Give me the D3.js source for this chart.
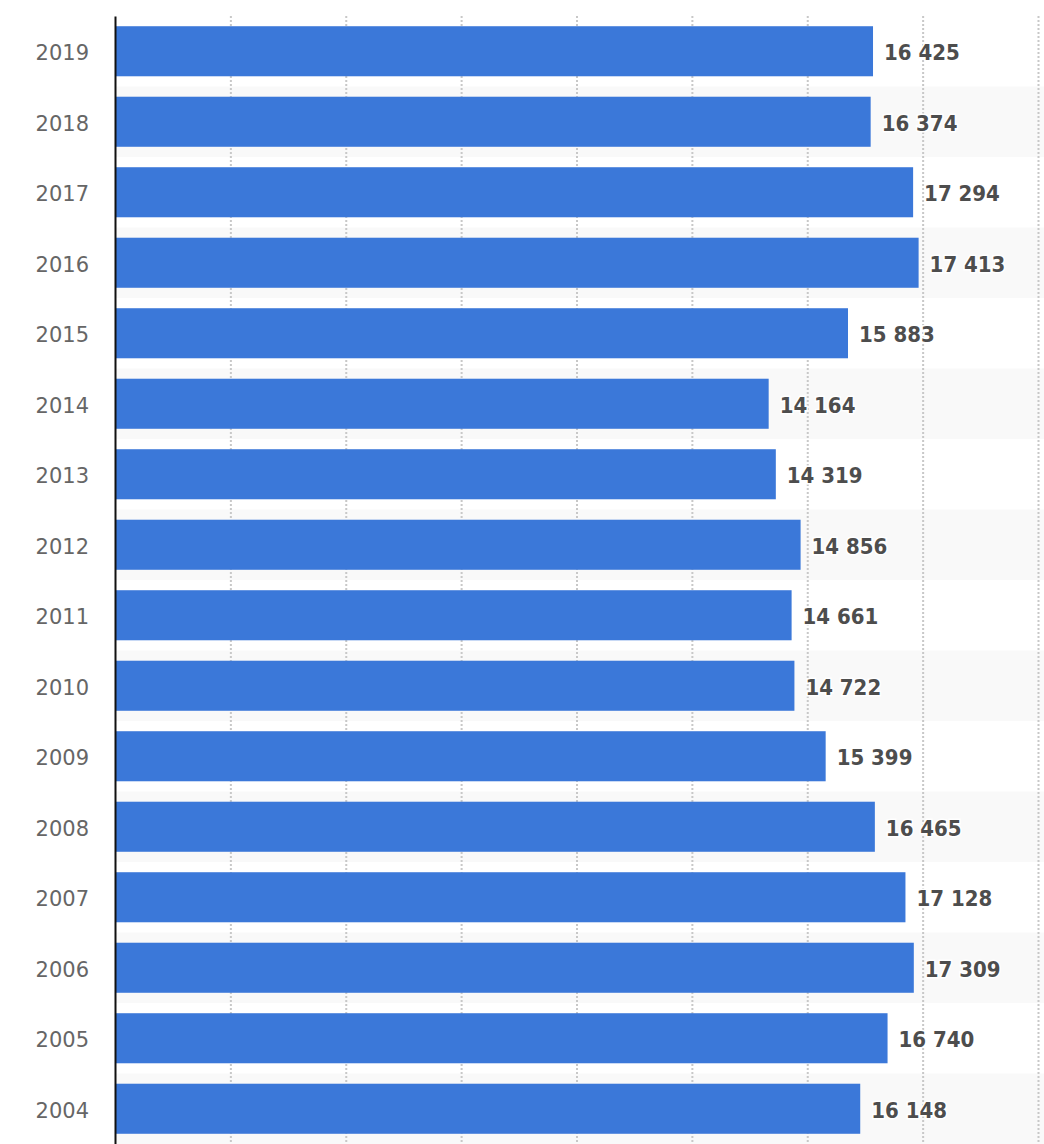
<!DOCTYPE html>
<html>
<head>
<meta charset="utf-8">
<script src="https://cdn.jsdelivr.net/npm/d3@7"></script>
<style>
  body { margin: 0; background: #fff; }
  svg { display: block; }
</style>
</head>
<body>
<svg id="chart"></svg>
<script>
var years = ["2019","2018","2017","2016","2015","2014","2013","2012","2011","2010","2009","2008","2007","2006","2005","2004"];
var values = [16425,16374,17294,17413,15883,14164,14319,14856,14661,14722,15399,16465,17128,17309,16740,16148];
var gridTicks = [2500,5000,7500,10000,12500,15000,17500,20000];

var data = years.map(function(y, i){
    return { year: y, value: values[i] };
});

var svgWidth = 1044;
var svgHeight = 1144;
var plotLeft = 115, plotRight = 1038, plotTop = 16, plotBottom = 1144;

var graph = d3.select('#chart')
    .attr("width", svgWidth)
    .attr("height", svgHeight);

var xScale = d3.scaleLinear()
    .domain([0, 20000])
    .range([plotLeft, plotRight]);

var yScale = d3.scaleBand()
    .domain(years)
    .range([plotTop, plotBottom])
    .paddingInner(0.29)
    .paddingOuter(0.145);

var step = yScale.step();

// alternating row bands
graph.append('g')
  .selectAll("rect")
  .data(data.filter(function(d, i){ return i % 2 == 1; }))
  .enter()
  .append("rect")
    .attr("x", plotLeft)
    .attr("width", svgWidth - plotLeft)
    .attr("y", function(d){ return yScale(d.year) - step * 0.145; })
    .attr("height", step)
    .attr("fill", "#f9f9f9");

// dotted grid
var xAxis = d3.axisBottom(xScale)
    .tickValues(gridTicks)
    .tickSize(plotBottom - plotTop)
    .tickFormat("");

var grid = graph.append('g')
    .attr("transform", "translate(0," + plotTop + ")")
    .call(xAxis);
grid.select(".domain").remove();
grid.selectAll(".tick line")
    .attr("stroke", "#c8c8c8")
    .attr("stroke-width", 2)
    .attr("stroke-dasharray", "2,2");

// bars
graph.append('g')
  .selectAll("rect")
  .data(data)
  .enter()
  .append("rect")
    .attr("x", xScale(0))
    .attr("y", function(d){ return yScale(d.year); })
    .attr("width", function(d){ return xScale(d.value) - xScale(0); })
    .attr("height", yScale.bandwidth())
    .attr("fill", "#3b78d9");

// value labels
graph.append('g')
  .selectAll("text")
  .data(data)
  .enter()
  .append("text")
    .attr("x", function(d){ return xScale(d.value) + 11; })
    .attr("y", function(d){ return yScale(d.year) + yScale.bandwidth()/2; })
    .attr("dy", "0.4em")
    .style("font-family", "'DejaVu Sans Condensed', 'DejaVu Sans', sans-serif")
    .style("font-size", "22px")
    .style("font-weight", "bold")
    .style("fill", "#4d4d4d")
    .style("stroke", "#fff")
    .style("stroke-width", 3)
    .style("paint-order", "stroke")
    .text(function(d){
        return d3.format(",")(d.value).replace(",", " ");
    });

// y axis
var yAxis = d3.axisLeft(yScale)
    .tickSize(0)
    .tickPadding(26);

var ya = graph.append('g')
    .attr("transform", "translate(" + plotLeft + ",0)")
    .call(yAxis);
ya.select(".domain")
    .attr("stroke", "#111")
    .attr("stroke-width", 2);
ya.selectAll("text")
    .attr("dy", "0.42em")
    .style("font-family", "'DejaVu Sans', sans-serif")
    .style("font-size", "21px")
    .style("fill", "#666");
</script>
</body>
</html>
